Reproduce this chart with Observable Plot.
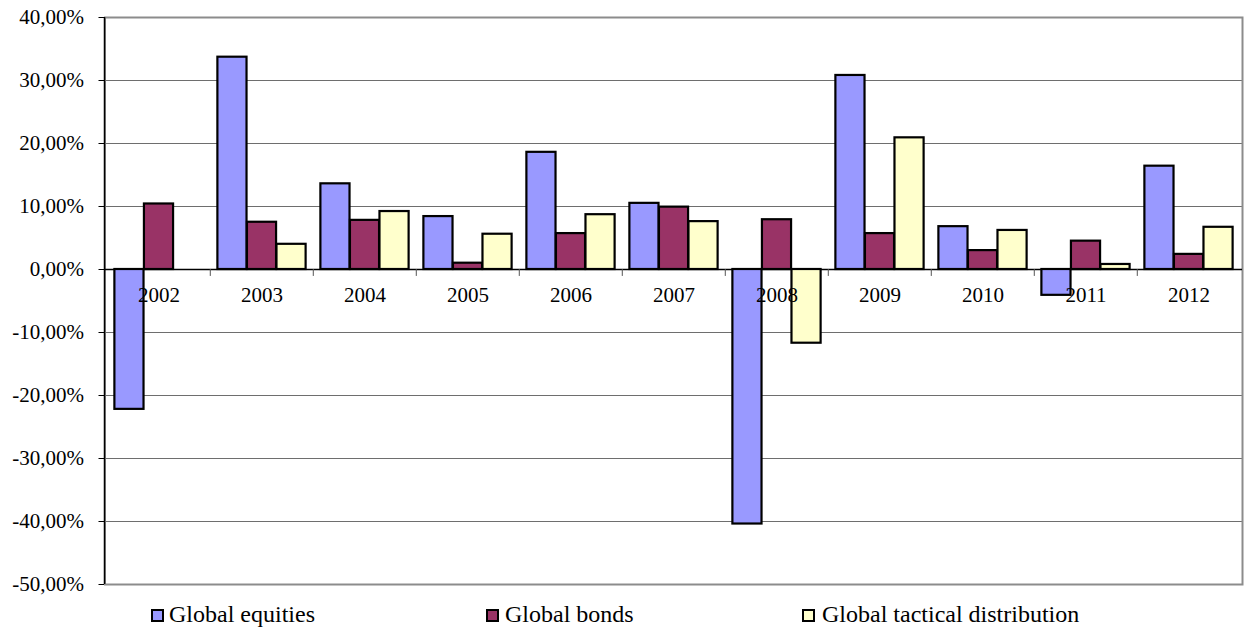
<!DOCTYPE html>
<html>
<head>
<meta charset="utf-8">
<script src="https://cdn.jsdelivr.net/npm/d3@7"></script>
<script src="https://cdn.jsdelivr.net/npm/@observablehq/plot@0.6"></script>
<style>
  body { margin: 0; background: #fff; }
  #wrap { position: relative; width: 1252px; height: 629px; font-family: "Liberation Serif", "Times New Roman", serif; }
  .lg { position: absolute; top: 600px; height: 28px; line-height: 28px; font-size: 24px; color: #000; white-space: nowrap; }
  .sw { position: absolute; top: 609px; width: 13px; height: 13px; box-sizing: border-box; border: 2px solid #000; }
</style>
</head>
<body>
<div id="wrap"></div>
<script>
const years = ["2002","2003","2004","2005","2006","2007","2008","2009","2010","2011","2012"];
const equities = [-22.2, 33.7, 13.6, 8.4, 18.6, 10.5, -40.4, 30.8, 6.8, -4.1, 16.4];
const bonds = [10.4, 7.5, 7.8, 1.0, 5.7, 9.9, 7.9, 5.7, 3.0, 4.5, 2.4];
const tactical = [null, 4.0, 9.2, 5.6, 8.7, 7.6, -11.7, 20.9, 6.2, 0.8, 6.7];
const seriesNames = ["Global equities", "Global bonds", "Global tactical distribution"];
const seriesColors = ["#9999FF", "#993366", "#FFFFCC"];
const yTicks = [-50, -40, -30, -20, -10, 0, 10, 20, 30, 40];

const seriesValues = [equities, bonds, tactical];
const rows = [];
seriesValues.forEach((vals, s) => vals.forEach((v, i) => {
  if (v != null) rows.push({year: years[i], series: seriesNames[s], value: v});
}));

const FONT = '"Liberation Serif", "Times New Roman", serif';
const W = 1252, H = 596, ML = 104.5, MR = 10, MT = 17, MB = 12;
const bw = (W - ML - MR) / years.length;
const barW = bw / 3.5;
const pad = barW / 4;

const loc = d3.formatLocale({decimal: ",", thousands: ".", grouping: [3], currency: ["", "€"], minus: "-"});
const fmt = loc.format(".2f");

const marks = [
  Plot.ruleY(yTicks.filter(t => t !== 0 && t !== 40 && t !== -50), {y: d => d, stroke: "#6e6e6e", strokeWidth: 1}),
  Plot.frame({stroke: "#8c8c8c", strokeWidth: 2}),
  (index, scales, values, dims) => {
    const g = d3.create("svg:g");
    g.append("line").attr("x1", dims.marginLeft).attr("x2", dims.marginLeft)
      .attr("y1", dims.marginTop).attr("y2", dims.height - dims.marginBottom)
      .attr("stroke", "#000").attr("stroke-width", 1.5);
    return g.node();
  },
  Plot.ruleY([0], {stroke: "#000", strokeWidth: 1.5}),
  Plot.ruleX(years.slice(1), {x: d => d, y1: 0, y2: -1.1, dx: -bw / 2, stroke: "#555", strokeWidth: 1}),
  ...seriesNames.map((name, s) => Plot.barY(rows.filter(d => d.series === name), {
    x: "year", y: "value",
    fill: seriesColors[s], stroke: "#000", strokeWidth: 2.2,
    insetLeft: pad + s * barW, insetRight: bw - pad - (s + 1) * barW
  })),
  Plot.text(years, {x: d => d, y: 0, dy: 26, text: d => d, fontSize: 21, fill: "#000", fontFamily: FONT})
];

const chart = Plot.plot({
  width: W, height: H,
  marginLeft: ML, marginRight: MR, marginTop: MT, marginBottom: MB,
  style: {fontFamily: FONT, fontSize: "21px", color: "#000", background: "#fff", overflow: "visible"},
  x: {domain: years, padding: 0, axis: null},
  y: {domain: [-50, 40], ticks: yTicks, tickFormat: d => fmt(d) + "%", tickSize: 6, tickPadding: 15, label: null},
  marks
});

const wrap = document.getElementById("wrap");
wrap.appendChild(chart);
const swLeft = [151, 486, 802];
const txLeft = [169, 505, 822];
seriesNames.forEach((name, s) => {
  const sw = document.createElement("div");
  sw.className = "sw";
  sw.style.left = swLeft[s] + "px";
  sw.style.background = seriesColors[s];
  wrap.appendChild(sw);
  const t = document.createElement("div");
  t.className = "lg";
  t.style.left = txLeft[s] + "px";
  t.textContent = name;
  wrap.appendChild(t);
});
</script>
</body>
</html>
